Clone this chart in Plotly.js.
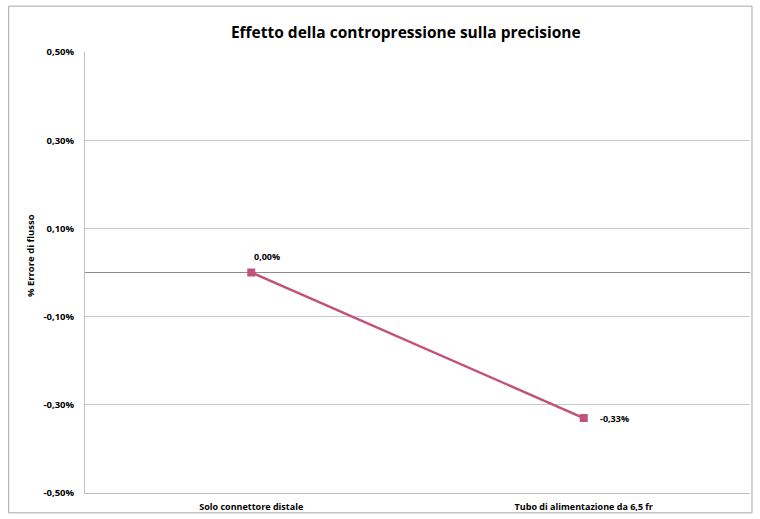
<!DOCTYPE html>
<html><head><meta charset="utf-8">
<script src="https://cdn.plot.ly/plotly-3.0.1.min.js"></script>
<style>html,body{margin:0;padding:0;background:#fff;}#chart{width:760px;height:519px;}</style>
</head><body><div id="chart"></div>
<script>
const categories = ["Solo connettore distale", "Tubo di alimentazione da 6,5 fr"];
const errorValues = [0.0000, -0.0033];
const dataLabels = ["0,00%", "-0,33%"];
const yTickVals = [0.005, 0.003, 0.001, -0.001, -0.003, -0.005];
const yTickText = ["0,50%", "0,30%", "0,10%", "-0,10%", "-0,30%", "-0,50%"];

const FONT = 'Open Sans, sans-serif';
const trace = {
  x: categories, y: errorValues, type: 'scatter', mode: 'lines+markers',
  line: {color: '#C2517C', width: 2.5},
  marker: {symbol: 'square', size: 8, color: '#C2517C'},
  hoverinfo: 'skip', cliponaxis: false
};
const labelShifts = [[16, 16], [31, 0]];
const annotations = dataLabels.map((t, i) => ({
  x: categories[i], y: errorValues[i], xref: 'x', yref: 'y', text: t, showarrow: false,
  xshift: labelShifts[i][0], yshift: labelShifts[i][1],
  font: {family: FONT, size: 9, color: '#000', weight: 'bold'}
}));
annotations.push({
  xref: 'paper', yref: 'paper', x: -0.083, y: 0.539, text: '% Errore di flusso', textangle: -90,
  showarrow: false, xanchor: 'center', yanchor: 'middle',
  font: {family: FONT, size: 9.5, color: '#000', weight: 'bold'}
});
const layout = {
  width: 760, height: 519,
  margin: {l: 85, r: 10, t: 52, b: 26},
  paper_bgcolor: '#fff', plot_bgcolor: '#fff',
  separators: ',.',
  showlegend: false,
  title: {text: 'Effetto della contropressione sulla precisione', x: 0.534, xanchor: 'center', y: 0.937, yanchor: 'middle',
    font: {family: FONT, size: 15.5, color: '#000', weight: 'bold'}},
  xaxis: {type: 'category', range: [-0.5, 1.5], showgrid: false, showline: true, linecolor: '#BFBFBF', linewidth: 1,
    ticks: '', ticklabelstandoff: 5, tickfont: {family: FONT, size: 9, color: '#000', weight: 'bold'}, fixedrange: true},
  yaxis: {range: [-0.005, 0.005], tickvals: yTickVals, ticktext: yTickText, showgrid: true, gridcolor: '#C8C8C8', gridwidth: 1,
    zeroline: true, zerolinecolor: '#8C8C8C', zerolinewidth: 1.5, showline: true, linecolor: '#BFBFBF', linewidth: 1,
    ticks: '', ticklabelstandoff: 8,
    tickfont: {family: FONT, size: 9.5, color: '#000', weight: 'bold'},
    fixedrange: true},
  annotations: annotations,
  shapes: [{type: 'rect', xref: 'paper', yref: 'paper', x0: -0.1147, x1: 1.003, y0: -0.045, y1: 1.104,
    line: {color: '#A6A6A6', width: 1}, fillcolor: 'rgba(0,0,0,0)', layer: 'below'}]
};
Plotly.newPlot('chart', [trace], layout, {staticPlot: true});
</script></body></html>
